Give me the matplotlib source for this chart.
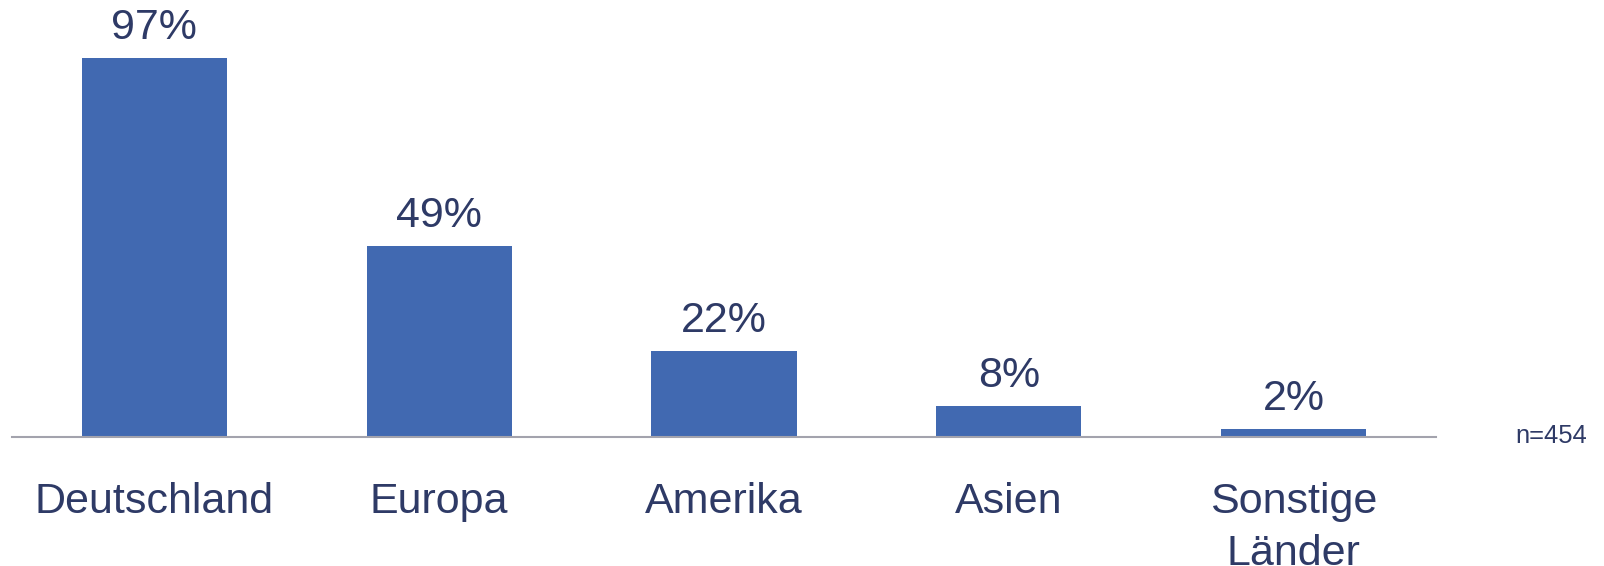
import matplotlib
matplotlib.use("Agg")
import matplotlib.pyplot as plt

plt.rcParams['font.family'] = ['Liberation Sans', 'DejaVu Sans']

regions = ["Deutschland", "Europa", "Amerika", "Asien", "Sonstige\nLänder"]
shares = [97, 49, 22, 8, 2]
sample_note = "n=454"

bar_color = "#4169B1"
text_color = "#2E3A66"
axis_color = "#A3A3AD"

W, H = 1604, 566
fig = plt.figure(figsize=(W / 100, H / 100), dpi=100)
ax = fig.add_axes([12 / W, (H - 437) / H, 1424 / W, 437 / H])

x = range(len(regions))
ax.bar(x, shares, width=0.51, color=bar_color, zorder=2)
ax.set_xlim(-0.5, len(regions) - 0.5)
ax.set_ylim(0, 437 / 3.907)

# value labels above bars
for i, v in zip(x, shares):
    ax.annotate(f"{v}%", (i, v), xytext=(0, 13.5), textcoords="offset points",
                ha="center", va="baseline", fontsize=31, color=text_color)

# category labels below the baseline, one annotation per line
line_step = 37.5  # points between baselines
for i, name in zip(x, regions):
    for k, line in enumerate(name.split("\n")):
        ax.annotate(line, (i, 0), xycoords=("data", "axes fraction"),
                    xytext=(0, -55 - k * line_step), textcoords="offset points",
                    ha="center", va="baseline", fontsize=31, color=text_color,
                    annotation_clip=False)

fig.text(1587 / W, 1 - 443 / H, sample_note, ha="right", va="baseline",
         fontsize=18.4, color=text_color)

for side in ["top", "right", "left"]:
    ax.spines[side].set_visible(False)
ax.spines["bottom"].set_color(axis_color)
ax.spines["bottom"].set_linewidth(1.5)
ax.set_xticks([])
ax.set_yticks([])

fig.savefig("out.png", dpi=100)
